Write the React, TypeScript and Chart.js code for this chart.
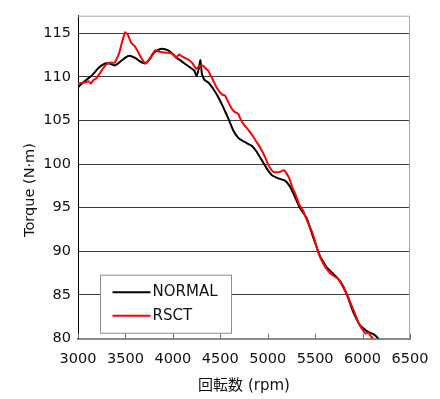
import React, { useEffect, useRef } from "react";
import { Chart, registerables } from "chart.js";

Chart.register(...registerables);

const xTicks = [3000, 3500, 4000, 4500, 5000, 5500, 6000, 6500];
const yTicks = [80, 85, 90, 95, 100, 105, 110, 115];

const normalRpm = [
  3000, 3060, 3119, 3160, 3207, 3250, 3295, 3340, 3383, 3420, 3453, 3500, 3541, 3575, 3611, 3650,
  3682, 3717, 3760, 3805, 3850, 3886, 3946, 3990, 4033, 4090, 4139, 4190, 4226, 4251, 4275, 4290,
  4307, 4332, 4374, 4427, 4479, 4532, 4585, 4637, 4690, 4760, 4831, 4884, 4937, 4989, 5042, 5112,
  5182, 5230, 5270, 5340, 5411, 5481, 5551, 5622, 5692, 5762, 5833, 5903, 5973, 6044, 6113, 6140, 6175,
];
const normalTorque = [
  108.8, 109.4, 109.9, 110.3, 110.9, 111.3, 111.55, 111.5, 111.3, 111.5, 111.8, 112.2, 112.4, 112.3, 112.1, 111.8,
  111.6, 111.55, 112.1, 112.8, 113.1, 113.2, 113.05, 112.7, 112.2, 111.8, 111.4, 111.0, 110.7, 110.1, 111.0, 111.9,
  110.3, 109.65, 109.35, 108.6, 107.65, 106.5, 105.2, 103.85, 103.0, 102.5, 102.1, 101.4, 100.45, 99.5, 98.75, 98.35,
  98.1, 97.5, 96.65, 94.95, 93.8, 91.55, 89.45, 88.15, 87.4, 86.6, 85.1, 83.0, 81.5, 80.85, 80.5, 80.3, 79.9,
];

const rsctRpm = [
  3000, 3040, 3084, 3110, 3137, 3160, 3190, 3225, 3260, 3313, 3350, 3383, 3410, 3436, 3465, 3495,
  3524, 3545, 3559, 3590, 3611, 3640, 3664, 3690, 3710, 3730, 3752, 3785, 3815, 3850, 3893, 3940,
  3980, 4010, 4033, 4050, 4068, 4100, 4140, 4173, 4210, 4244, 4265, 4286, 4321, 4350, 4374, 4400,
  4427, 4460, 4497, 4520, 4550, 4575, 4602, 4630, 4655, 4690, 4715, 4743, 4780, 4813, 4850, 4884,
  4920, 4954, 4980, 5006, 5035, 5059, 5100, 5129, 5172, 5200, 5230, 5260, 5288, 5330, 5375, 5420,
  5464, 5500, 5533, 5575, 5622, 5680, 5744, 5790, 5833, 5875, 5920, 5950, 5973, 6000, 6036, 6060,
  6085, 6115,
];
const rsctTorque = [
  109.2, 109.3, 109.4, 109.5, 109.2, 109.6, 109.8, 110.3, 110.9, 111.55, 111.6, 111.6, 112.1, 112.8, 114.0, 115.1,
  114.85, 114.3, 113.9, 113.6, 113.3, 112.7, 112.2, 111.8, 111.55, 111.7, 112.0, 112.6, 113.05, 112.9, 112.8, 112.75,
  112.7, 112.5, 112.2, 112.4, 112.55, 112.3, 112.1, 111.9, 111.5, 110.9, 111.1, 111.25, 111.25, 110.9, 110.7, 110.1,
  109.55, 108.8, 108.2, 107.95, 107.85, 107.3, 106.7, 106.2, 105.95, 105.75, 105.1, 104.6, 104.1, 103.65, 103.1, 102.5,
  101.9, 101.2, 100.6, 99.9, 99.4, 99.1, 99.05, 99.1, 99.3, 98.9, 98.3, 97.3, 96.65, 95.4, 94.6, 93.4,
  92.3, 91.1, 89.85, 88.8, 87.95, 87.3, 86.8, 86.0, 85.1, 84.0, 82.85, 82.0, 81.5, 81.0, 80.55, 80.7,
  80.3, 79.9,
];

const seriesNames = ["NORMAL", "RSCT"];
const seriesColors = ["#000000", "#ff0000"];
const xTitle = "回転数 (rpm)";
const yTitle = "Torque (N·m)";

const FONT = '"DejaVu Sans", "Noto Sans CJK JP", sans-serif';

const extrasPlugin = {
  id: "extras",
  beforeDatasetsDraw(chart: any) {
    const { ctx, chartArea: a, scales } = chart;
    ctx.save();
    ctx.strokeStyle = "#a8a8a8";
    ctx.lineWidth = 1;
    ctx.beginPath();
    ctx.moveTo(a.left, a.top + 0.5);
    ctx.lineTo(a.right - 0.5, a.top + 0.5);
    ctx.lineTo(a.right - 0.5, a.bottom);
    ctx.stroke();
    ctx.strokeStyle = "#707070";
    ctx.beginPath();
    xTicks.forEach((v) => {
      const px = Math.round(scales.x.getPixelForValue(v)) + 0.5;
      ctx.moveTo(px, a.bottom);
      ctx.lineTo(px, a.bottom - 5);
    });
    ctx.stroke();
    ctx.restore();
  },
  afterDraw(chart: any) {
    const { ctx, chartArea: a } = chart;
    ctx.save();
    const bx = a.left + 22.5;
    const by = a.top + 259.5;
    const bw = 131;
    const bh = 58;
    ctx.fillStyle = "#ffffff";
    ctx.fillRect(bx, by, bw, bh);
    ctx.strokeStyle = "#8c8c8c";
    ctx.lineWidth = 1;
    ctx.strokeRect(bx, by, bw, bh);
    ctx.font = `15px ${FONT}`;
    ctx.textBaseline = "middle";
    ctx.textAlign = "left";
    chart.data.datasets.forEach((ds: any, i: number) => {
      const ly = by + 17 + i * 23.5;
      ctx.strokeStyle = ds.borderColor;
      ctx.lineWidth = 2;
      ctx.beginPath();
      ctx.moveTo(bx + 12, ly);
      ctx.lineTo(bx + 50, ly);
      ctx.stroke();
      ctx.fillStyle = "#111";
      ctx.fillText(ds.label, bx + 52, ly);
    });
    ctx.fillStyle = "#111";
    ctx.font = `15px ${FONT}`;
    ctx.textAlign = "center";
    ctx.textBaseline = "middle";
    ctx.fillText(xTitle, (a.left + a.right) / 2, 386);
    ctx.translate(30, 190);
    ctx.rotate(-Math.PI / 2);
    ctx.font = `14.5px ${FONT}`;
    ctx.fillText(yTitle, 0, 0);
    ctx.restore();
  },
};

export default function App() {
  const ref = useRef<HTMLCanvasElement | null>(null);
  useEffect(() => {
    if (!ref.current) return;
    const rpms = [normalRpm, rsctRpm];
    const torques = [normalTorque, rsctTorque];
    const chart = new Chart(ref.current, {
      type: "line",
      data: {
        datasets: seriesNames.map((name, i) => ({
          label: name,
          data: rpms[i].map((r, j) => ({ x: r, y: torques[i][j] })),
          borderColor: seriesColors[i],
          backgroundColor: seriesColors[i],
          borderWidth: 2,
          pointRadius: 0,
          tension: 0.1,
          fill: false,
          order: i === 0 ? 2 : 1,
        })),
      },
      options: {
        animation: false,
        responsive: false,
        layout: { padding: { left: 0, top: 13, right: 30, bottom: 0 } },
        plugins: { legend: { display: false }, tooltip: { enabled: false } },
        scales: {
          x: {
            type: "linear",
            min: 3000,
            max: 6500,
            afterBuildTicks: (s: any) => {
              s.ticks = xTicks.map((v) => ({ value: v }));
            },
            afterFit: (s: any) => {
              s.height = 60.5;
            },
            grid: { display: false },
            border: { display: true, color: "#8a8a8a", width: 2 },
            ticks: {
              color: "#111",
              font: { family: FONT, size: 14.5 },
              padding: 4,
              maxRotation: 0,
              autoSkip: false,
              callback: (v: any) => String(v),
            },
          },
          y: {
            type: "linear",
            min: 80,
            max: 117,
            afterBuildTicks: (s: any) => {
              s.ticks = yTicks.map((v) => ({ value: v }));
            },
            afterFit: (s: any) => {
              s.width = 78;
            },
            grid: { color: "#3c3c3c", lineWidth: 1, drawTicks: false },
            border: { display: true, color: "#000", width: 1 },
            ticks: {
              color: "#111",
              font: { family: FONT, size: 14.5 },
              padding: 7,
              autoSkip: false,
              callback: (v: any) => String(v),
            },
          },
        },
      },
      plugins: [extrasPlugin],
    });
    return () => chart.destroy();
  }, []);
  return (
    <div style={{ position: "absolute", left: 0, top: 0, width: 440, height: 399 }}>
      <canvas ref={ref} width={440} height={399} />
    </div>
  );
}
